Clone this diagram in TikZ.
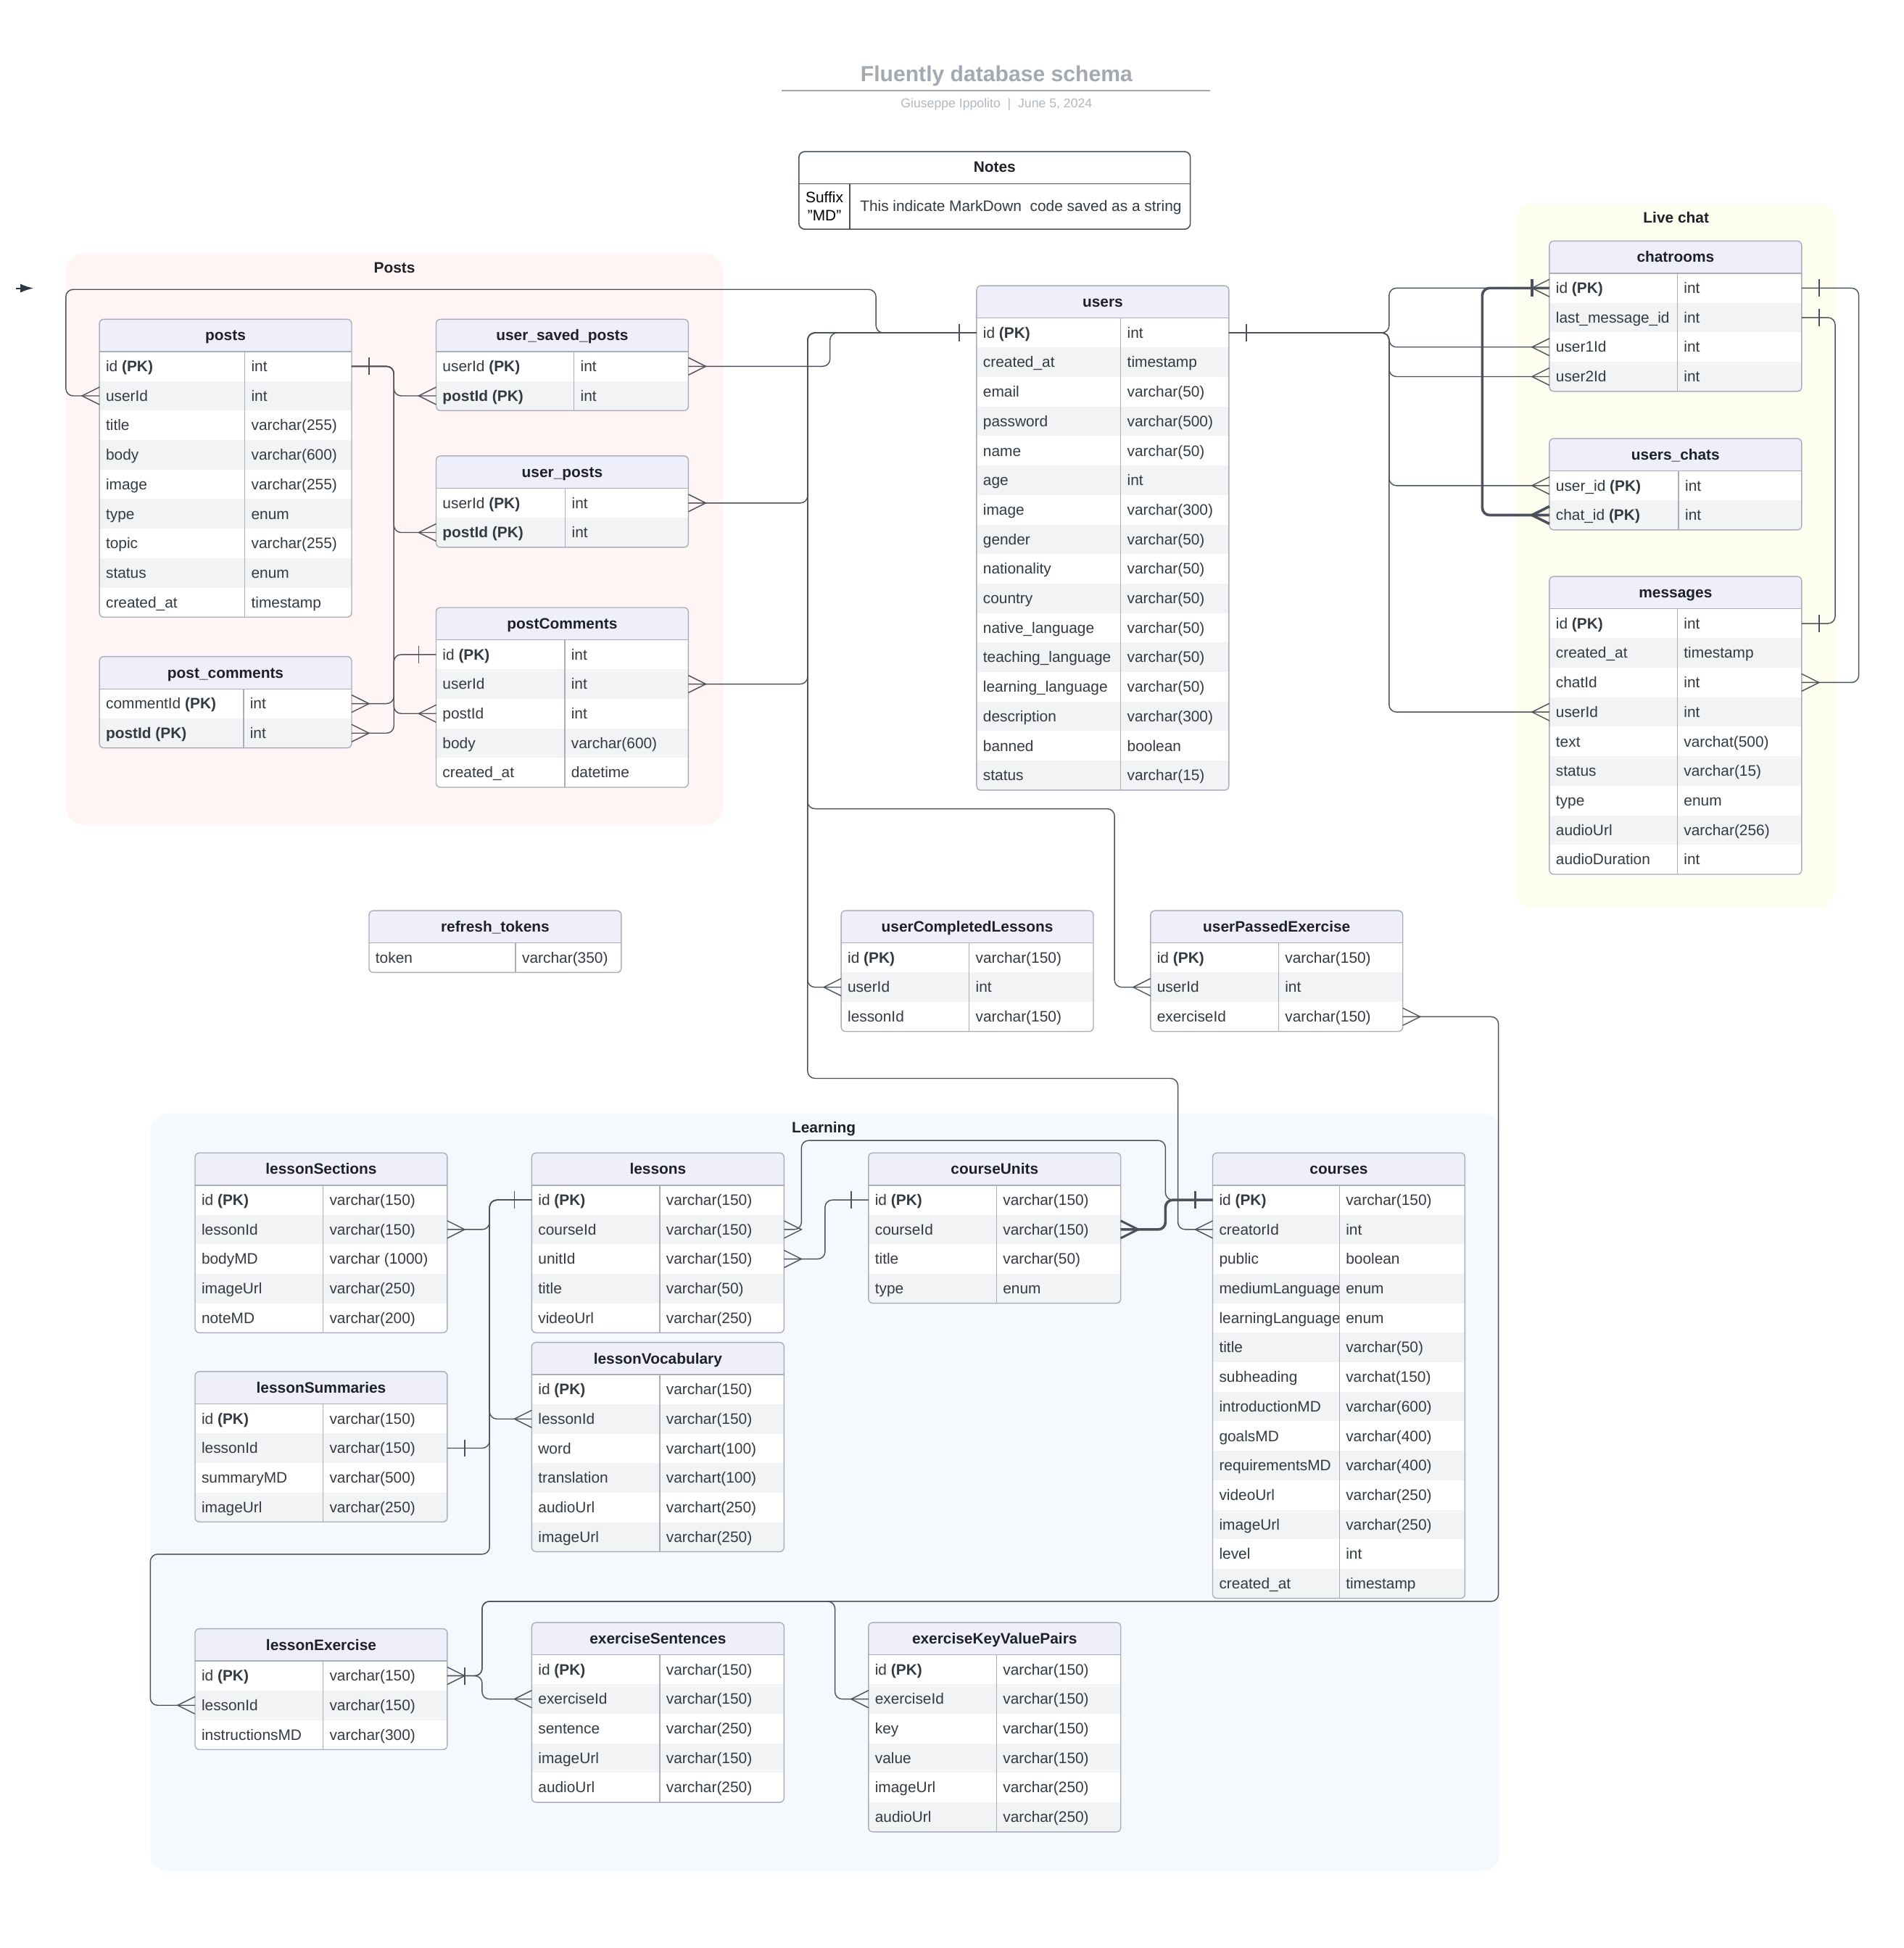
\documentclass[tikz,border=0pt]{standalone}
\usepackage{fontspec}
\setmainfont{Liberation Sans}
\usetikzlibrary{arrows.meta}

\definecolor{linegray}{HTML}{4B525C}
\definecolor{tblborder}{HTML}{A9AEB8}
\definecolor{hdrfill}{HTML}{EFEFFC}
\definecolor{rowfill}{HTML}{F2F3F5}
\definecolor{celltext}{HTML}{343A42}
\definecolor{hdrcolor}{HTML}{1E2228}
\definecolor{titlegray}{HTML}{A4A9B1}
\definecolor{subgray}{HTML}{B3B7BE}
\definecolor{postsbg}{HTML}{FFF5F5}
\definecolor{chatbg}{HTML}{FEFEF0}
\definecolor{learnbg}{HTML}{F5F8FD}
\definecolor{arrowdark}{HTML}{2E3440}

\tikzset{
  cellfont/.style={inner sep=0pt, text=celltext, font=\fontsize{10.4}{12}\selectfont},
  cell/.style={cellfont, anchor=west, text height=9.4pt, text depth=2.2pt},
  hdrtext/.style={inner sep=0pt, text=hdrcolor, text height=9.4pt, text depth=2.2pt, font=\fontsize{10.4}{12}\selectfont\bfseries},
  grouplabel/.style={hdrtext},
  tblline/.style={draw=tblborder, line width=0.7pt},
  notesline/.style={draw=linegray, line width=0.8pt},
  conn/.style={draw=linegray, line width=0.7pt, rounded corners=5pt},
  thickconn/.style={line width=1.8pt},
  erEnd/.style={color=linegray, line width=0.7pt},
  crowR/.pic={\draw (0,-7) -- (14,0) -- (0,7);},
  crowL/.pic={\draw (0,-7) -- (-14,0) -- (0,7);},
  barR/.pic={\draw (14,-7) -- (14,7);},
  barL/.pic={\draw (-14,-7) -- (-14,7);},
}

\newcommand{\erTable}[7]{%
  \begin{scope}[shift={(#2,#3)}]
    \pgfmathsetmacro{\tblH}{26+#6*23.75}
    \fill[white, rounded corners=3pt] (0,0) rectangle (203,\tblH);
    \fill[hdrfill, rounded corners=3pt] (0,0) rectangle (203,26);
    \fill[hdrfill] (0,13) rectangle (203,26);
    \foreach[count=\i] \k/\t in {#7} {
      \pgfmathsetmacro{\yy}{26+(\i-1)*23.75}
      \ifodd\i\relax\else\fill[rowfill] (0,\yy) rectangle (203,\yy+23.75);\fi
      \node[cell] (#1-k\i) at (5,\yy+11.875) {\k};
      \node[cell] (#1-t\i) at (#4+5,\yy+11.875) {\t};
      \coordinate (#1-\i-w) at (0,\yy+11.875);
      \coordinate (#1-\i-e) at (203,\yy+11.875);
    }
    \draw[tblline] (#4,26) -- (#4,\tblH);
    \draw[tblline] (0,26) -- (203,26);
    \draw[tblline, rounded corners=3pt] (0,0) rectangle (203,\tblH);
    \node[hdrtext] (#1) at (101.5,13) {#5};
  \end{scope}
}

\begin{document}
\begin{tikzpicture}[x=0.03cm, y=-0.03cm]
\useasboundingbox (0,0) rectangle (1532,1568);

\fill[postsbg, rounded corners=12pt] (53,204) rectangle (582,664);
\fill[chatbg, rounded corners=12pt] (1220,163) rectangle (1477,731);
\fill[learnbg, rounded corners=12pt] (121,896) rectangle (1207,1506);
\node[grouplabel] (postsGroup) at (317.5,215.5) {Posts};
\node[grouplabel] (chatGroup) at (1349,175) {Live chat};
\node[grouplabel] (learnGroup) at (663,907.5) {Learning};

\node[inner sep=0pt, text=titlegray, font=\fontsize{15}{18}\selectfont\bfseries] (title) at (802,61) {Fluently database schema};
\coordinate (ruleL) at (629,73);
\coordinate (ruleR) at (974,73);
\draw[titlegray, line width=0.9pt] (ruleL) -- (ruleR);
\node[inner sep=0pt, text=subgray, font=\fontsize{8.8}{10}\selectfont] (subtitle) at (802,84) {Giuseppe Ippolito\ \ |\ \ June 5, 2024};

\coordinate (strayTail) at (13,232);
\coordinate (strayTip) at (27,232);
\draw[arrowdark, line width=1pt, -{Latex[length=9pt,width=6pt]}] (strayTail) -- (strayTip);

\fill[white, rounded corners=4pt] (643,122) rectangle (958,184.5);
\draw[notesline, rounded corners=4pt] (643,122) rectangle (958,184.5);
\draw[notesline] (643,148) -- (958,148);
\draw[notesline] (684,148) -- (684,184.5);
\node[hdrtext] (notes) at (800.5,134.5) {Notes};
\node[cellfont, align=center, text=black] (notesKey) at (663.5,166) {Suffix\\"MD"};
\node[cell] (notesVal) at (692,166) {This indicate MarkDown\ \ code saved as a string};

\erTable{posts}{80}{257}{117}{posts}{9}{id \textbf{(PK)}/int, userId/int, title/varchar(255), body/varchar(600), image/varchar(255), type/enum, topic/varchar(255), status/enum, created\_at/timestamp}
\erTable{pcm}{80}{528.5}{116}{post\_comments}{2}{commentId \textbf{(PK)}/int, \textbf{postId (PK)}/int}
\erTable{usp}{351}{257}{111}{user\_saved\_posts}{2}{userId \textbf{(PK)}/int, \textbf{postId (PK)}/int}
\erTable{up}{351}{367}{104}{user\_posts}{2}{userId \textbf{(PK)}/int, \textbf{postId (PK)}/int}
\erTable{pc}{351}{489}{103.5}{postComments}{5}{id \textbf{(PK)}/int, userId/int, postId/int, body/varchar(600), created\_at/datetime}
\erTable{users}{786}{230}{116}{users}{16}{id \textbf{(PK)}/int, created\_at/timestamp, email/varchar(50), password/varchar(500), name/varchar(50), age/int, image/varchar(300), gender/varchar(50), nationality/varchar(50), country/varchar(50), native\_language/varchar(50), teaching\_language/varchar(50), learning\_language/varchar(50), description/varchar(300), banned/boolean, status/varchar(15)}
\erTable{chat}{1247}{194}{103}{chatrooms}{4}{id \textbf{(PK)}/int, last\_message\_id/int, user1Id/int, user2Id/int}
\erTable{uc}{1247}{353}{104}{users\_chats}{2}{user\_id \textbf{(PK)}/int, chat\_id \textbf{(PK)}/int}
\erTable{msg}{1247}{464}{103}{messages}{9}{id \textbf{(PK)}/int, created\_at/timestamp, chatId/int, userId/int, text/varchat(500), status/varchar(15), type/enum, audioUrl/varchar(256), audioDuration/int}
\erTable{rt}{297}{733}{118}{refresh\_tokens}{1}{token/varchar(350)}
\erTable{ucl}{677}{733}{103}{userCompletedLessons}{3}{id \textbf{(PK)}/varchar(150), userId/int, lessonId/varchar(150)}
\erTable{upe}{926}{733}{103}{userPassedExercise}{3}{id \textbf{(PK)}/varchar(150), userId/int, exerciseId/varchar(150)}
\erTable{ls}{157}{928}{103}{lessonSections}{5}{id \textbf{(PK)}/varchar(150), lessonId/varchar(150), bodyMD/varchar (1000), imageUrl/varchar(250), noteMD/varchar(200)}
\erTable{lsum}{157}{1104}{103}{lessonSummaries}{4}{id \textbf{(PK)}/varchar(150), lessonId/varchar(150), summaryMD/varchar(500), imageUrl/varchar(250)}
\erTable{lessons}{428}{928}{103}{lessons}{5}{id \textbf{(PK)}/varchar(150), courseId/varchar(150), unitId/varchar(150), title/varchar(50), videoUrl/varchar(250)}
\erTable{lv}{428}{1080.5}{103}{lessonVocabulary}{6}{id \textbf{(PK)}/varchar(150), lessonId/varchar(150), word/varchart(100), translation/varchart(100), audioUrl/varchart(250), imageUrl/varchar(250)}
\erTable{cu}{699}{928}{103}{courseUnits}{4}{id \textbf{(PK)}/varchar(150), courseId/varchar(150), title/varchar(50), type/enum}
\erTable{courses}{976}{928}{102}{courses}{14}{id \textbf{(PK)}/varchar(150), creatorId/int, public/boolean, mediumLanguage/enum, learningLanguage/enum, title/varchar(50), subheading/varchat(150), introductionMD/varchar(600), goalsMD/varchar(400), requirementsMD/varchar(400), videoUrl/varchar(250), imageUrl/varchar(250), level/int, created\_at/timestamp}
\erTable{le}{157}{1311}{103}{lessonExercise}{3}{id \textbf{(PK)}/varchar(150), lessonId/varchar(150), instructionsMD/varchar(300)}
\erTable{es}{428}{1306}{103}{exerciseSentences}{5}{id \textbf{(PK)}/varchar(150), exerciseId/varchar(150), sentence/varchar(250), imageUrl/varchar(150), audioUrl/varchar(250)}
\erTable{ekv}{699}{1306}{103}{exerciseKeyValuePairs}{6}{id \textbf{(PK)}/varchar(150), exerciseId/varchar(150), key/varchar(150), value/varchar(150), imageUrl/varchar(250), audioUrl/varchar(250)}

\coordinate (pBus) at (317,0);
\coordinate (uBus) at (650,0);
\coordinate (uspBend) at (668,0);
\coordinate (uLoop) at (705,233);
\coordinate (pLoop) at (53,233);
\coordinate (upeBend) at (897,651);
\coordinate (crsBend) at (948,868);
\coordinate (cBus) at (1118,0);
\coordinate (chatLoop) at (1193,0);
\coordinate (msgBusA) at (1496,0);
\coordinate (msgBusB) at (1477,0);
\coordinate (lBus) at (394,0);
\coordinate (leLoop) at (121,1251);
\coordinate (lcBus) at (645,0);
\coordinate (crsLoop) at (938,918);
\coordinate (cuBus) at (664,0);
\coordinate (exBus) at (388,0);
\coordinate (exLoop) at (1206,1289);
\coordinate (ekvBus) at (672,1289);

\foreach \tgt in {usp-2-w, up-2-w, pc-3-w, pcm-2-e}
  \draw[conn] (posts-1-e) -- (posts-1-e -| pBus) |- (\tgt);
\draw[conn] (pc-1-w) -- (pc-1-w -| pBus) |- (pcm-1-e);

\draw[conn] (users-1-w) -| (uLoop) -- (pLoop) |- (posts-2-w);
\draw[conn] (usp-1-e) -| (uspBend |- users-1-w) -- (users-1-w);
\draw[conn] (up-1-e) -| (uBus |- users-1-w) -- (users-1-w);
\draw[conn] (pc-2-e) -| (uBus |- users-1-w) -- (users-1-w);
\draw[conn] (users-1-w) -- (uBus |- users-1-w) |- (ucl-2-w);
\draw[conn] (users-1-w) -- (uBus |- users-1-w) |- (upeBend) |- (upe-2-w);
\draw[conn] (users-1-w) -- (uBus |- users-1-w) |- (crsBend) |- (courses-2-w);

\foreach \tgt in {chat-1-w, chat-3-w, chat-4-w, uc-1-w, msg-4-w}
  \draw[conn] (users-1-e) -| (cBus |- \tgt) -- (\tgt);
\draw[conn, thickconn] (chat-1-w) -- (chatLoop |- chat-1-w) |- (uc-2-w);
\draw[conn] (chat-1-e) -- (msgBusA |- chat-1-e) |- (msg-3-e);
\draw[conn] (chat-2-e) -- (msgBusB |- chat-2-e) |- (msg-1-e);

\foreach \tgt in {ls-2-e, lv-2-w, lsum-2-e}
  \draw[conn] (lessons-1-w) -- (lBus |- lessons-1-w) |- (\tgt);
\draw[conn] (lessons-1-w) -- (lBus |- lessons-1-w) |- (leLoop) |- (le-2-w);
\draw[conn] (lessons-2-e) -- (lcBus |- lessons-2-e) |- (crsLoop) |- (courses-1-w);
\draw[conn, thickconn] (cu-2-e) -| (crsLoop |- courses-1-w) -- (courses-1-w);
\draw[conn] (lessons-3-e) -| (cuBus |- cu-1-w) -- (cu-1-w);
\draw[conn] (le-1-e) -- (exBus |- le-1-e) |- (exLoop) |- (upe-3-e);
\draw[conn] (le-1-e) -- (exBus |- le-1-e) |- (es-2-w);
\draw[conn] (le-1-e) -- (exBus |- le-1-e) |- (ekvBus) |- (ekv-2-w);

\foreach \p in {posts-1-e, users-1-e, chat-1-e, chat-2-e, msg-1-e, lsum-2-e, le-1-e}
  \pic[erEnd] at (\p) {barR};
\foreach \p in {pc-1-w, users-1-w, lessons-1-w, cu-1-w}
  \pic[erEnd] at (\p) {barL};
\foreach \p in {pcm-1-e, pcm-2-e, usp-1-e, up-1-e, pc-2-e, msg-3-e, ls-2-e, lessons-2-e, lessons-3-e, le-1-e, upe-3-e}
  \pic[erEnd] at (\p) {crowR};
\foreach \p in {usp-2-w, up-2-w, pc-3-w, posts-2-w, ucl-2-w, upe-2-w, courses-2-w, chat-1-w, chat-3-w, chat-4-w, uc-1-w, msg-4-w, lv-2-w, le-2-w, es-2-w, ekv-2-w}
  \pic[erEnd] at (\p) {crowL};
\pic[erEnd, line width=1.8pt] at (chat-1-w) {barL};
\pic[erEnd, line width=1.8pt] at (uc-2-w) {crowL};
\pic[erEnd, line width=1.5pt] at (courses-1-w) {barL};
\pic[erEnd, line width=1.5pt] at (cu-2-e) {crowR};
\end{tikzpicture}
\end{document}
